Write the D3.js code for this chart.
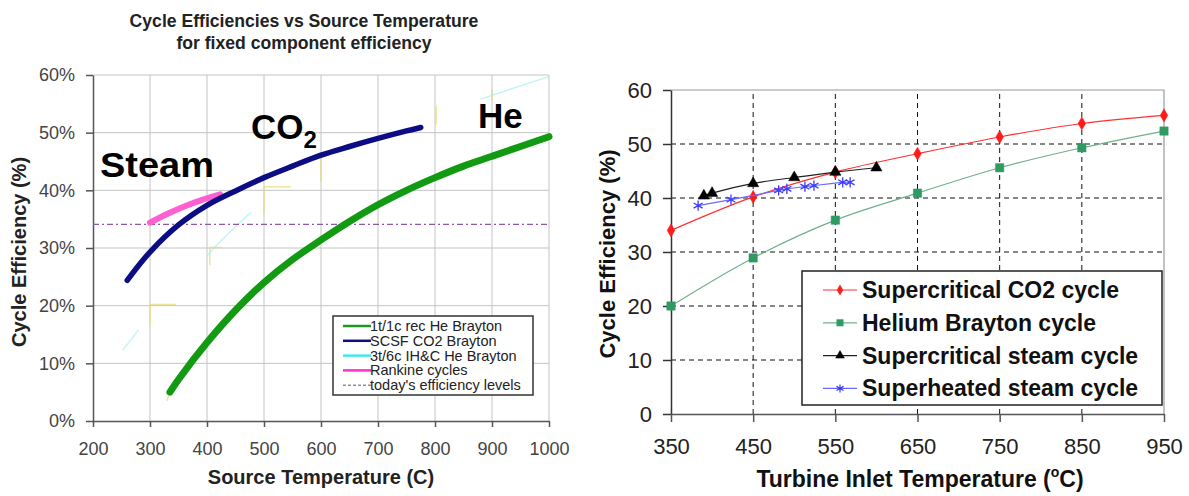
<!DOCTYPE html>
<html>
<head>
<meta charset="utf-8">
<script src="https://cdn.jsdelivr.net/npm/d3@7"></script>
<style>
  body { margin: 0; background: #fff; }
  svg { display: block; font-family: "Liberation Sans", Arial, sans-serif; }
</style>
</head>
<body>
<svg id="app" width="1189" height="496"></svg>
<script>
// ---- left chart: Cycle Efficiencies vs Source Temperature ----
const leftTicksX = [200, 300, 400, 500, 600, 700, 800, 900, 1000];
const leftTicksY = [0, 10, 20, 30, 40, 50, 60];
const heBrayton = [[335, 5], [350, 7.2], [400, 13.6], [450, 19.2], [500, 24], [550, 28], [600, 31.4], [650, 34.6], [700, 37.5], [750, 40], [800, 42.2], [850, 44.2], [900, 45.9], [950, 47.6], [1000, 49.3]];
const co2Brayton = [[260, 24.4], [300, 29.3], [350, 34], [400, 37.4], [450, 39.9], [500, 42.2], [550, 44.2], [600, 46.1], [650, 47.6], [700, 49], [750, 50.3], [775, 50.9]];
const rankine = [[300, 34.4], [330, 35.9], [360, 37.2], [390, 38.3], [423, 39.3]];
const ihcFragments = [
  [[252, 12.3], [280, 15.8]],
  [[400, 28.6], [420, 30.8], [445, 33.2], [477, 36.2]],
  [[880, 55.8], [940, 57.8], [1000, 59.7]]
];
const remnants = [
  [[300, 16.4], [300, 20.2], [346, 20.2]],
  [[405, 27], [405, 30.1], [426, 30.1]],
  [[500, 36], [500, 40.6], [547, 40.6]],
  [[600, 41.5], [600, 46.2]],
  [[802, 51.4], [802, 54.6]],
  [[900, 55.8], [900, 57.5]],
  [[330, 3.5], [334, 5]]
];
const todayLevel = 34.1;
const leftLegend = ["1t/1c rec He Brayton", "SCSF CO2 Brayton", "3t/6c IH&C He Brayton", "Rankine cycles", "today's efficiency levels"];
const leftLegendColors = ["#1c9a1c", "#10107a", "#40e8f0", "#ff2fc8", "#6a4a80"];

// ---- right chart: Turbine Inlet Temperature ----
const rightTicksX = [350, 450, 550, 650, 750, 850, 950];
const rightTicksY = [0, 10, 20, 30, 40, 50, 60];
const co2Temps = [350, 450, 550, 650, 750, 850, 950];
const co2Eff = [34, 40.2, 44.8, 48.2, 51.3, 53.8, 55.3];
const heTemps = [350, 450, 550, 650, 750, 850, 950];
const heEff = [20, 28.9, 35.9, 40.9, 45.6, 49.3, 52.4];
const scSteamTemps = [390, 400, 450, 500, 550, 600];
const scSteamEff = [40.4, 40.9, 42.7, 43.8, 44.8, 45.6];
const shSteamTemps = [383, 423, 481, 491, 513, 524, 559, 568];
const shSteamEff = [38.6, 39.7, 41.4, 41.7, 42.1, 42.3, 42.9, 42.9];
const rightLegend = ["Supercritical CO2 cycle", "Helium Brayton cycle", "Supercritical steam cycle", "Superheated steam cycle"];

const svg = d3.select("#app");

// ================= LEFT =================
const xL = d3.scaleLinear().domain([200, 1000]).range([93, 549]);
const yL = d3.scaleLinear().domain([0, 60]).range([421, 75]);
const gL = svg.append("g");

// title
gL.append("text").attr("x", 304).attr("y", 27).attr("text-anchor", "middle")
  .attr("font-size", 17.6).attr("font-weight", "bold").attr("fill", "#222")
  .text("Cycle Efficiencies vs Source Temperature");
gL.append("text").attr("x", 304).attr("y", 49).attr("text-anchor", "middle")
  .attr("font-size", 17.6).attr("font-weight", "bold").attr("fill", "#222")
  .text("for fixed component efficiency");

// grid
gL.selectAll(".gx").data(leftTicksX.slice(1)).enter().append("line")
  .attr("x1", d => xL(d)).attr("x2", d => xL(d)).attr("y1", yL(0)).attr("y2", yL(60))
  .attr("stroke", "#c4c4c4").attr("stroke-width", 1);
gL.selectAll(".gy").data(leftTicksY.slice(1)).enter().append("line")
  .attr("x1", xL(200)).attr("x2", xL(1000)).attr("y1", d => yL(d)).attr("y2", d => yL(d))
  .attr("stroke", "#c4c4c4").attr("stroke-width", 1);

// remnant marks
const lineL = d3.line().x(d => xL(d[0])).y(d => yL(d[1]));
gL.selectAll(".rem").data(remnants).enter().append("path")
  .attr("d", lineL).attr("fill", "none").attr("stroke", "#e4dc70").attr("stroke-width", 1.5).attr("opacity", 0.7);
gL.selectAll(".ihc").data(ihcFragments).enter().append("path")
  .attr("d", d3.line().x(d => xL(d[0])).y(d => yL(d[1])).curve(d3.curveCatmullRom))
  .attr("fill", "none").attr("stroke", "#8fecf2").attr("stroke-width", 1.3).attr("opacity", 0.6);

// axes
const axL = d3.axisLeft(yL).tickValues(leftTicksY).tickFormat(d => d + "%").tickSize(7).tickSizeOuter(0).tickPadding(11);
const axLg = gL.append("g").attr("transform", `translate(${xL(200)},0)`).call(axL);
axLg.selectAll("text").attr("font-size", 18).attr("fill", "#444").attr("font-family", "Liberation Sans, Arial");
axLg.selectAll("line, path").attr("stroke", "#555").attr("stroke-width", 1.5);
const axB = d3.axisBottom(xL).tickValues(leftTicksX).tickFormat(d => String(d)).tickSize(6).tickSizeOuter(0).tickPadding(15);
const axBg = gL.append("g").attr("transform", `translate(0,${yL(0)})`).call(axB);
axBg.selectAll("text").attr("font-size", 18).attr("fill", "#444").attr("font-family", "Liberation Sans, Arial");
axBg.selectAll("line, path").attr("stroke", "#555").attr("stroke-width", 1.5);

// today's level
gL.append("line").attr("x1", xL(200)).attr("x2", xL(1000)).attr("y1", yL(todayLevel)).attr("y2", yL(todayLevel))
  .attr("stroke", "#8a5aa8").attr("stroke-width", 1.3).attr("stroke-dasharray", "6,3,2,3");

// curves
const smooth = d3.line().x(d => xL(d[0])).y(d => yL(d[1])).curve(d3.curveCatmullRom);
gL.append("path").datum(rankine).attr("d", smooth).attr("fill", "none")
  .attr("stroke", "#ff5fd0").attr("stroke-width", 6).attr("stroke-linecap", "round");
gL.append("path").datum(co2Brayton).attr("d", smooth).attr("fill", "none")
  .attr("stroke", "#0c0c84").attr("stroke-width", 5.5).attr("stroke-linecap", "round");
gL.append("path").datum(heBrayton).attr("d", smooth).attr("fill", "none")
  .attr("stroke", "#139a13").attr("stroke-width", 7).attr("stroke-linecap", "round");

// labels
gL.append("text").attr("x", 100).attr("y", 177).attr("font-size", 35).attr("font-weight", "bold")
  .attr("textLength", 114).attr("lengthAdjust", "spacingAndGlyphs").text("Steam");
const co2Lab = gL.append("text").attr("x", 251).attr("y", 139).attr("font-size", 35).attr("font-weight", "bold");
co2Lab.append("tspan").text("CO");
co2Lab.append("tspan").attr("font-size", 24).attr("dy", 9).text("2");
gL.append("text").attr("x", 478).attr("y", 128).attr("font-size", 35).attr("font-weight", "bold").text("He");

// axis titles
gL.append("text").attr("transform", "translate(26,252) rotate(-90)").attr("text-anchor", "middle")
  .attr("font-size", 20).attr("font-weight", "bold").attr("fill", "#222").text("Cycle Efficiency (%)");
gL.append("text").attr("x", 321).attr("y", 484).attr("text-anchor", "middle")
  .attr("font-size", 20).attr("font-weight", "bold").attr("fill", "#222").text("Source Temperature (C)");

// legend
const lgL = gL.append("g");
lgL.append("rect").attr("x", 333).attr("y", 316).attr("width", 200).attr("height", 79)
  .attr("fill", "#fff").attr("stroke", "#333").attr("stroke-width", 1.5);
const lgLi = lgL.selectAll(".li").data(leftLegend).enter().append("g")
  .attr("transform", (d, i) => `translate(0,${326 + i * 14.8})`);
lgLi.append("line").attr("x1", 343).attr("x2", 371).attr("y1", 0).attr("y2", 0)
  .attr("stroke", (d, i) => leftLegendColors[i]).attr("stroke-width", (d, i) => i === 4 ? 1 : 2.5)
  .attr("stroke-dasharray", (d, i) => i === 4 ? "3,2" : null);
lgLi.append("text").attr("x", 370).attr("y", 5).attr("font-size", 14.5).attr("fill", "#222").text(d => d);

// ================= RIGHT =================
const xR = d3.scaleLinear().domain([350, 950]).range([671, 1164]);
const yR = d3.scaleLinear().domain([0, 60]).range([414, 90]);
const gR = svg.append("g");

// grid
gR.selectAll(".gx").data(rightTicksX.slice(1, -1)).enter().append("line")
  .attr("x1", d => xR(d)).attr("x2", d => xR(d)).attr("y1", yR(0)).attr("y2", yR(60))
  .attr("stroke", "#111").attr("stroke-width", 1).attr("stroke-dasharray", "5,4");
gR.selectAll(".gy").data(rightTicksY.slice(1, -1)).enter().append("line")
  .attr("x1", xR(350)).attr("x2", xR(950)).attr("y1", d => yR(d)).attr("y2", d => yR(d))
  .attr("stroke", "#111").attr("stroke-width", 1).attr("stroke-dasharray", "5,4");
gR.append("path").attr("d", `M${xR(350)},${yR(60)}H${xR(950)}V${yR(0)}`)
  .attr("fill", "none").attr("stroke", "#999").attr("stroke-width", 1.2);

// axes
const ayR = d3.axisLeft(yR).tickValues(rightTicksY).tickSize(8).tickSizeOuter(0).tickPadding(11);
const ayRg = gR.append("g").attr("transform", `translate(${xR(350)},0)`).call(ayR);
ayRg.selectAll("text").attr("font-size", 22).attr("fill", "#222").attr("font-family", "Liberation Sans, Arial");
ayRg.selectAll("line, path").attr("stroke", "#333").attr("stroke-width", 1.5);
const axR = d3.axisBottom(xR).tickValues(rightTicksX).tickSize(8).tickSizeOuter(0).tickPadding(16);
const axRg = gR.append("g").attr("transform", `translate(0,${yR(0)})`).call(axR);
axRg.selectAll("text").attr("font-size", 22).attr("fill", "#222").attr("font-family", "Liberation Sans, Arial");
axRg.selectAll("line, path").attr("stroke", "#555").attr("stroke-width", 1.5);

// series
const series = [
  { name: rightLegend[0], t: co2Temps, v: co2Eff, line: "#ff3030", mark: "#ff1a1a", sym: d3.symbolDiamond, size: 50, stroke: false },
  { name: rightLegend[1], t: heTemps, v: heEff, line: "#6fb08c", mark: "#2f9a62", sym: d3.symbolSquare, size: 70, stroke: false },
  { name: rightLegend[2], t: scSteamTemps, v: scSteamEff, line: "#222", mark: "#000", sym: d3.symbolTriangle, size: 55, stroke: false },
  { name: rightLegend[3], t: shSteamTemps, v: shSteamEff, line: "#6a6aff", mark: "#3a3aff", sym: d3.symbolAsterisk, size: 75, stroke: true }
];
const lineR = d3.line().x(d => xR(d[0])).y(d => yR(d[1])).curve(d3.curveCatmullRom);
series.forEach(s => {
  const pts = s.t.map((t, i) => [t, s.v[i]]);
  gR.append("path").datum(pts).attr("d", lineR).attr("fill", "none")
    .attr("stroke", s.line).attr("stroke-width", 1.2);
  gR.selectAll(null).data(pts).enter().append("path")
    .attr("transform", d => `translate(${xR(d[0])},${yR(d[1])})`)
    .attr("d", d3.symbol().type(s.sym).size(s.size))
    .attr("fill", s.stroke ? "none" : s.mark)
    .attr("stroke", s.mark).attr("stroke-width", s.stroke ? 1.3 : 0.5);
});

// legend
const lgR = gR.append("g");
lgR.append("rect").attr("x", 802).attr("y", 271).attr("width", 360).attr("height", 134)
  .attr("fill", "#fff").attr("stroke", "#222").attr("stroke-width", 1.5);
const lgRi = lgR.selectAll(".li").data(series).enter().append("g")
  .attr("transform", (d, i) => `translate(0,${290 + i * 32.8})`);
lgRi.append("line").attr("x1", 823).attr("x2", 857).attr("y1", 0).attr("y2", 0)
  .attr("stroke", d => d.line).attr("stroke-width", 1.2);
lgRi.append("path").attr("transform", "translate(840,0)")
  .attr("d", d => d3.symbol().type(d.sym).size(d.size * 0.6)())
  .attr("fill", d => d.stroke ? "none" : d.mark).attr("stroke", d => d.mark).attr("stroke-width", d => d.stroke ? 1.2 : 0.5);
lgRi.append("text").attr("x", 862).attr("y", 8).attr("font-size", 23).attr("font-weight", "bold")
  .attr("fill", "#111").text(d => d.name);

// axis titles
gR.append("text").attr("transform", "translate(615,254) rotate(-90)").attr("text-anchor", "middle")
  .attr("font-size", 22).attr("font-weight", "bold").attr("fill", "#111").text("Cycle Efficiency (%)");
const xt = gR.append("text").attr("x", 920).attr("y", 487).attr("text-anchor", "middle")
  .attr("font-size", 23).attr("font-weight", "bold").attr("fill", "#111");
xt.append("tspan").text("Turbine Inlet Temperature (");
xt.append("tspan").attr("font-size", 14).attr("dy", -10).text("o");
xt.append("tspan").attr("dy", 10).text("C)");
</script>
</body>
</html>
